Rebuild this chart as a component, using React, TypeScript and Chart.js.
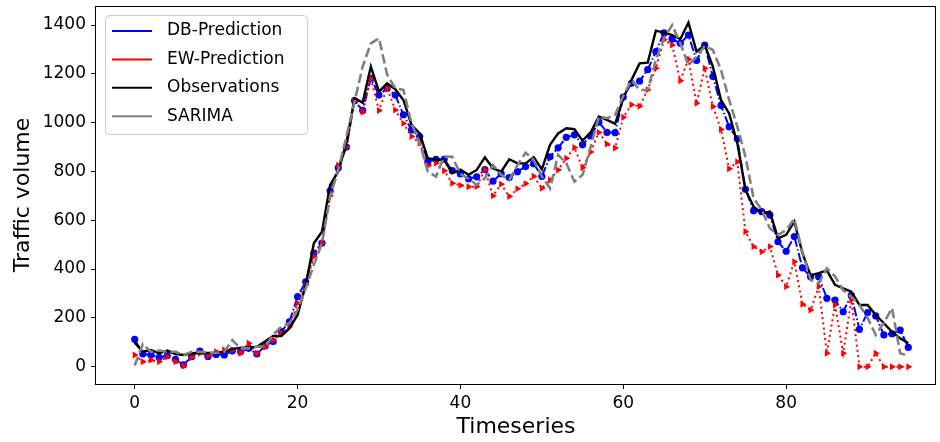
import React, { useEffect, useRef } from "react";
import { Chart, registerables } from "chart.js";

Chart.register(...registerables);

const xTickValues = [0, 20, 40, 60, 80];
const yTickValues = [0, 200, 400, 600, 800, 1000, 1200, 1400];

const observations = [
  98, 61, 68, 55, 66, 52, 48, 55, 57, 56, 57, 61, 72, 78, 78, 82, 103, 126, 126, 157,
  212, 335, 506, 553, 745, 800, 917, 1100, 1082, 1230, 1127, 1161, 1137, 1093, 990, 956, 854, 847, 847, 793,
  808, 786, 806, 858, 813, 799, 850, 833, 833, 858, 809, 909, 956, 977, 973, 926, 960, 1025, 1011, 995,
  1100, 1175, 1243, 1246, 1377, 1369, 1359, 1342, 1410, 1291, 1318, 1230, 1093, 1038, 916, 725, 656, 629, 635, 526,
  540, 595, 465, 374, 383, 394, 335, 321, 307, 253, 253, 212, 178, 143, 116, 96,
];

const dbPrediction = [
  112, 52, 48, 38, 45, 30, 7, 41, 64, 42, 50, 48, 65, 61, 75, 52, 85, 103, 144, 184,
  287, 348, 465, 506, 720, 815, 900, 1090, 1050, 1182, 1113, 1141, 1113, 1032, 970, 943, 840, 850, 850, 803,
  790, 770, 778, 808, 760, 791, 775, 799, 820, 832, 780, 860, 897, 940, 950, 909, 946, 1002, 960, 959,
  1105, 1161, 1170, 1217, 1291, 1368, 1342, 1325, 1359, 1255, 1318, 1189, 1070, 983, 934, 727, 639, 635, 622, 512,
  473, 533, 405, 369, 369, 280, 273, 225, 292, 153, 222, 208, 130, 135, 150, 79,
];

const ewPrediction = [
  48, 20, 27, 20, 41, 20, 3, 38, 55, 45, 61, 68, 68, 55, 96, 55, 82, 109, 137, 164,
  260, 335, 451, 506, 700, 826, 900, 1090, 1043, 1180, 1050, 1142, 1052, 997, 943, 916, 823, 834, 803, 752,
  743, 737, 738, 806, 700, 748, 697, 729, 750, 780, 731, 765, 806, 854, 898, 815, 880, 960, 912, 896,
  1022, 1073, 1067, 1135, 1223, 1340, 1318, 1172, 1260, 1079, 1223, 1066, 972, 811, 840, 553, 492, 471, 492, 376,
  328, 430, 256, 232, 328, 55, 253, 55, 273, 0, 0, 55, 0, 0, 0, 0,
];

const sarima = [
  5, 93, 61, 66, 61, 61, 48, 61, 61, 57, 57, 61, 109, 75, 75, 82, 82, 130, 164, 178,
  232, 321, 417, 506, 697, 806, 943, 1086, 1230, 1325, 1346, 1196, 1141, 1134, 997, 916, 799, 779, 861, 860,
  790, 770, 745, 772, 826, 786, 765, 826, 877, 847, 779, 731, 868, 834, 758, 786, 902, 1025, 1018, 1032,
  1110, 1175, 1134, 1134, 1257, 1346, 1400, 1325, 1236, 1270, 1314, 1298, 1216, 1093, 984, 861, 690, 642, 567, 540,
  560, 605, 471, 355, 342, 403, 370, 314, 287, 253, 200, 130, 180, 240, 55, 45,
];

const legendLabels = ["DB-Prediction", "EW-Prediction", "Observations", "SARIMA"];
const legendColors = ["#0000ff", "#ff0000", "#000000", "#808080"];

const FONT = "'DejaVu Sans', 'Liberation Sans', sans-serif";

const toPoints = (arr: number[]) => arr.map((v, i) => ({ x: i, y: v }));

const framePlugin = {
  id: "frameAndLegend",
  afterDraw(chart: any) {
    const { ctx, chartArea } = chart;
    const { left, right, top, bottom } = chartArea;
    ctx.save();
    ctx.strokeStyle = "#000";
    ctx.lineWidth = 1;
    ctx.strokeRect(Math.round(left) - 0.5, Math.round(top) + 0.5, Math.round(right - left), Math.round(bottom - top));

    const bx = 105.5, by = 15.5, bw = 202, bh = 119, r = 4;
    ctx.beginPath();
    ctx.moveTo(bx + r, by);
    ctx.lineTo(bx + bw - r, by);
    ctx.quadraticCurveTo(bx + bw, by, bx + bw, by + r);
    ctx.lineTo(bx + bw, by + bh - r);
    ctx.quadraticCurveTo(bx + bw, by + bh, bx + bw - r, by + bh);
    ctx.lineTo(bx + r, by + bh);
    ctx.quadraticCurveTo(bx, by + bh, bx, by + bh - r);
    ctx.lineTo(bx, by + r);
    ctx.quadraticCurveTo(bx, by, bx + r, by);
    ctx.closePath();
    ctx.fillStyle = "rgba(255,255,255,0.8)";
    ctx.fill();
    ctx.strokeStyle = "#cccccc";
    ctx.lineWidth = 1;
    ctx.stroke();

    ctx.font = `17px ${FONT}`;
    ctx.textBaseline = "middle";
    ctx.textAlign = "left";
    legendLabels.forEach((label, k) => {
      const y = 31 + k * 28.4;
      ctx.beginPath();
      ctx.strokeStyle = legendColors[k];
      ctx.lineWidth = 2;
      ctx.moveTo(112, y);
      ctx.lineTo(152, y);
      ctx.stroke();
      ctx.fillStyle = "#000";
      ctx.fillText(label, 167, y);
    });
    ctx.restore();
  },
};

export default function App() {
  const canvasRef = useRef<HTMLCanvasElement | null>(null);

  useEffect(() => {
    const canvas = canvasRef.current;
    if (!canvas) return;
    const chart = new Chart(canvas, {
      type: "line",
      data: {
        datasets: [
          {
            label: "SARIMA",
            data: toPoints(sarima),
            borderColor: "#808080",
            borderWidth: 2.6,
            borderDash: [9.5, 4],
            pointRadius: 0,
            tension: 0,
            fill: false,
            order: 0,
          },
          {
            label: "Observations",
            data: toPoints(observations),
            borderColor: "#000000",
            borderWidth: 2.4,
            pointRadius: 0,
            tension: 0,
            fill: false,
            order: 1,
          },
          {
            label: "EW-Prediction",
            data: toPoints(ewPrediction),
            borderColor: "#ff0000",
            borderWidth: 2,
            borderDash: [2, 3.3],
            pointStyle: "triangle",
            rotation: 90,
            pointRadius: 4,
            pointBackgroundColor: "#ff0000",
            pointBorderColor: "#ff0000",
            pointBorderWidth: 0,
            tension: 0,
            fill: false,
            order: 2,
          },
          {
            label: "DB-Prediction",
            data: toPoints(dbPrediction),
            borderColor: "#0000ff",
            borderWidth: 2,
            borderDash: [9.6, 2.4, 1.5, 2.4],
            pointStyle: "circle",
            pointRadius: 3.6,
            pointBackgroundColor: "#0000ff",
            pointBorderColor: "#0000ff",
            pointBorderWidth: 0,
            tension: 0,
            fill: false,
            order: 3,
          },
        ] as any,
      },
      options: {
        responsive: false,
        animation: false,
        devicePixelRatio: 1,
        layout: { padding: { top: 6, right: 3, left: 0, bottom: 0 } },
        plugins: {
          legend: { display: false },
          tooltip: { enabled: false },
        },
        scales: {
          x: {
            type: "linear",
            min: -4.75,
            max: 98.4,
            afterBuildTicks: (scale: any) => {
              scale.ticks = xTickValues.map((v) => ({ value: v }));
            },
            afterFit: (scale: any) => {
              scale.height = 58;
              scale.paddingLeft = 0;
              scale.paddingRight = 0;
            },
            grid: {
              display: true,
              drawOnChartArea: false,
              drawTicks: true,
              tickLength: 5,
              tickColor: "#000",
            },
            border: { display: false },
            ticks: {
              color: "#000",
              font: { family: FONT, size: 17 },
              padding: 4,
              maxRotation: 0,
              callback: (v: any) => String(v),
            },
            title: {
              display: true,
              text: "Timeseries",
              color: "#000",
              font: { family: FONT, size: 22 },
              padding: { top: 0, bottom: 2 },
            },
          },
          y: {
            type: "linear",
            min: -71,
            max: 1478,
            afterBuildTicks: (scale: any) => {
              scale.ticks = yTickValues.map((v) => ({ value: v }));
            },
            afterFit: (scale: any) => {
              scale.width = 96;
              scale.paddingTop = 0;
              scale.paddingBottom = 0;
            },
            grid: {
              display: true,
              drawOnChartArea: false,
              drawTicks: true,
              tickLength: 5,
              tickColor: "#000",
            },
            border: { display: false },
            ticks: {
              color: "#000",
              font: { family: FONT, size: 17 },
              padding: 5,
              callback: (v: any) => String(v),
            },
            title: {
              display: true,
              text: "Traffic volume",
              color: "#000",
              font: { family: FONT, size: 22 },
              padding: { top: 10, bottom: 0 },
            },
          },
        },
      } as any,
      plugins: [framePlugin],
    });
    return () => chart.destroy();
  }, []);

  return (
    <div style={{ position: "absolute", left: 0, top: 0, width: 940, height: 442, background: "#fff" }}>
      <canvas ref={canvasRef} width={940} height={442} style={{ width: 940, height: 442, display: "block" }} />
    </div>
  );
}
